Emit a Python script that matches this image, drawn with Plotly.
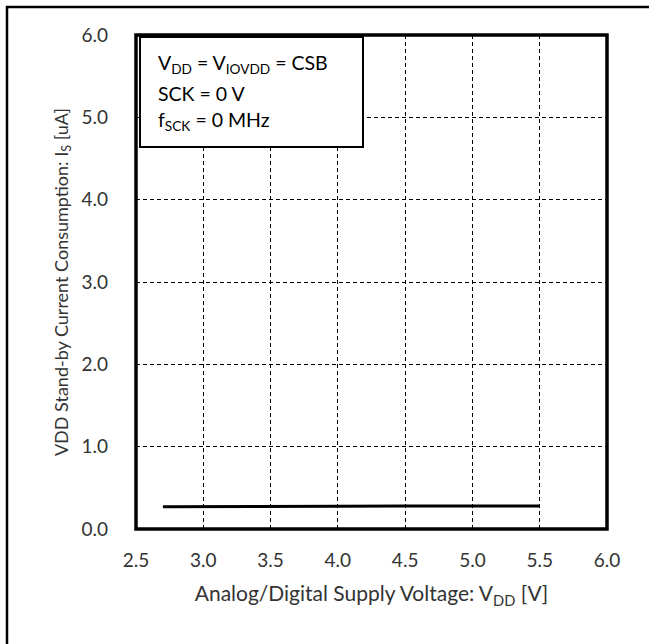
import plotly.graph_objects as go

# Data
vdd = [2.7, 3.0, 3.5, 4.0, 4.5, 5.0, 5.5]
i_s = [0.27, 0.27, 0.27, 0.275, 0.28, 0.28, 0.28]
x_ticks = [2.5, 3.0, 3.5, 4.0, 4.5, 5.0, 5.5, 6.0]
y_ticks = [0.0, 1.0, 2.0, 3.0, 4.0, 5.0, 6.0]
cond_lines = ["V<sub>DD</sub> = V<sub>IOVDD</sub> = CSB", "SCK = 0 V", "f<sub>SCK</sub> = 0 MHz"]

FONT = "Lato"
TXT = "#333333"
W, H = 649, 644
L, R, T, B = 136, 607, 35, 529

def px(x):
    return (x - L) / (R - L)

def py(y):
    return (B - y) / (B - T)

fig = go.Figure()
fig.add_trace(go.Scatter(x=vdd, y=i_s, mode="lines",
                         line=dict(color="black", width=3), showlegend=False))

fig.update_layout(
    width=W, height=H,
    margin=dict(l=L, r=W - R, t=T, b=H - B, autoexpand=False),
    paper_bgcolor="white", plot_bgcolor="white",
    font=dict(family=FONT, size=19, color=TXT),
    xaxis=dict(range=[2.5, 6.0], tickvals=x_ticks, ticktext=[f"{v:.1f}" for v in x_ticks],
               showgrid=True, gridcolor="black", gridwidth=1, griddash="4px,3px",
               zeroline=False, showline=False, ticks="", ticklabelstandoff=18,
               tickfont=dict(size=19, color=TXT),
               title=dict(text="Analog/Digital Supply Voltage: V<sub>DD</sub> [V]",
                          font=dict(size=21, color=TXT), standoff=16)),
    yaxis=dict(range=[0, 6.0], tickvals=y_ticks, ticktext=[f"{v:.1f}" for v in y_ticks],
               showgrid=True, gridcolor="black", gridwidth=1, griddash="4px,3px",
               zeroline=False, showline=False, ticks="", ticklabelstandoff=27,
               tickfont=dict(size=19, color=TXT),
               title=dict(text="VDD Stand-by Current Consumption: I<sub>S</sub> [uA]",
                          font=dict(size=18, color=TXT), standoff=8)),
)

shapes = []
# outer frame (only left/top visible, rest cropped)
shapes.append(dict(type="rect", xref="paper", yref="paper",
                   x0=px(7), x1=px(W + 20), y0=py(H + 20), y1=py(7),
                   line=dict(color="black", width=2.5), layer="below"))
# plot border
shapes.append(dict(type="rect", xref="paper", yref="paper",
                   x0=0, x1=1, y0=0, y1=1, line=dict(color="black", width=3.5)))
# condition box
shapes.append(dict(type="rect", xref="paper", yref="paper",
                   x0=px(140), x1=px(363), y0=py(147), y1=py(37),
                   fillcolor="white", line=dict(color="black", width=2)))
fig.update_layout(shapes=shapes)

for txt, ypix in zip(cond_lines, [64, 93, 121]):
    fig.add_annotation(text=txt, xref="paper", yref="paper", x=px(156), y=py(ypix),
                       xanchor="left", yanchor="middle", showarrow=False,
                       font=dict(family=FONT, size=19.5, color="black"))

fig.write_html("out.html", config={"displayModeBar": False},
               post_script="document.body.style.margin='0px';")
